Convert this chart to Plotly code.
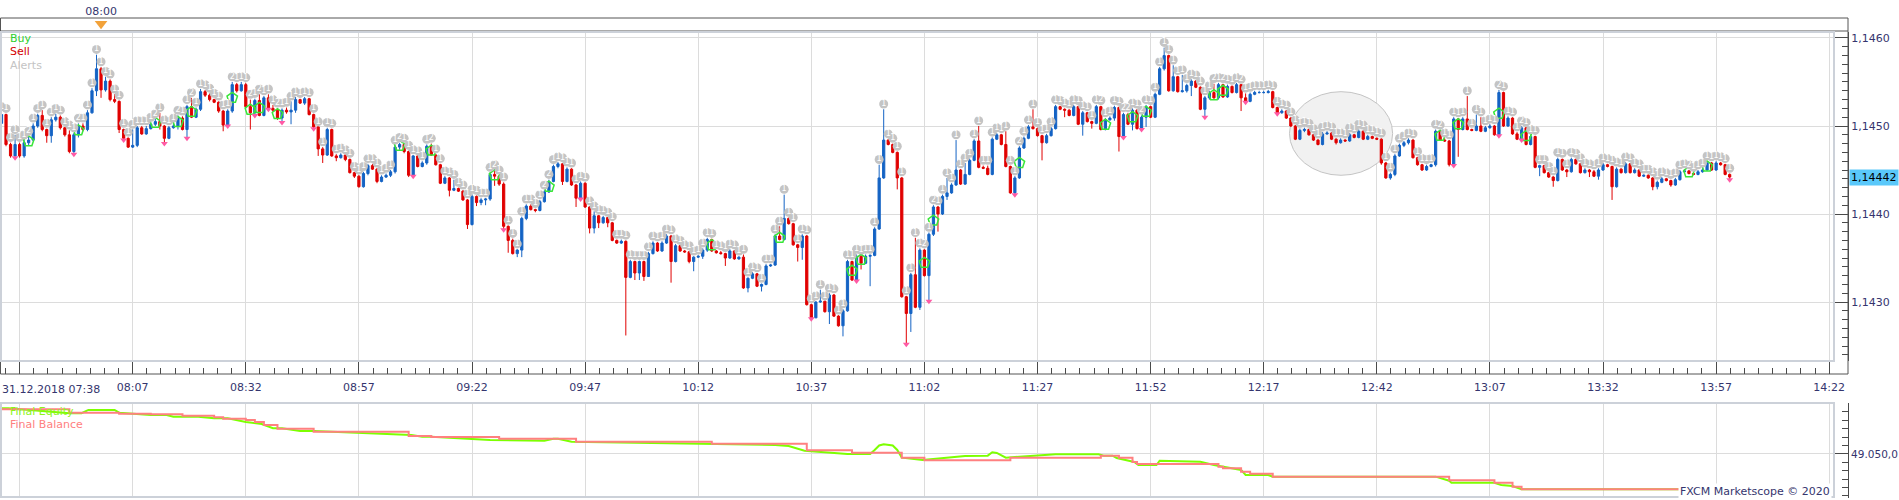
import pandas as pd
import plotly.graph_objects as go

# ---------------- data ----------------
SESSION_START = "2018-12-31 07:38"
first_open = 1.14503

close = [1.14513, 1.14479, 1.14466, 1.14479, 1.14466, 1.14481, 1.14484, 1.14500, 1.14512, 1.14496,
         1.14489, 1.14507, 1.14510, 1.14498, 1.14490, 1.14471, 1.14490, 1.14500, 1.14496, 1.14515,
         1.14540, 1.14565, 1.14541, 1.14551, 1.14530, 1.14528, 1.14496, 1.14486, 1.14476, 1.14478,
         1.14498, 1.14491, 1.14497, 1.14502, 1.14505, 1.14500, 1.14486, 1.14498, 1.14500, 1.14509,
         1.14496, 1.14522, 1.14510, 1.14519, 1.14539, 1.14535, 1.14530, 1.14527, 1.14517, 1.14501,
         1.14517, 1.14547, 1.14540, 1.14547, 1.14522, 1.14515, 1.14529, 1.14512, 1.14532, 1.14520,
         1.14518, 1.14509, 1.14518, 1.14516, 1.14518, 1.14530, 1.14526, 1.14531, 1.14513, 1.14499,
         1.14474, 1.14467, 1.14496, 1.14466, 1.14464, 1.14467, 1.14462, 1.14447, 1.14443, 1.14431,
         1.14446, 1.14455, 1.14451, 1.14437, 1.14442, 1.14444, 1.14448, 1.14476, 1.14479, 1.14471,
         1.14444, 1.14466, 1.14454, 1.14458, 1.14477, 1.14467, 1.14456, 1.14435, 1.14441, 1.14427,
         1.14429, 1.14426, 1.14416, 1.14388, 1.14420, 1.14413, 1.14416, 1.14417, 1.14445, 1.14443,
         1.14434, 1.14386, 1.14370, 1.14355, 1.14359, 1.14395, 1.14409, 1.14405, 1.14404, 1.14414,
         1.14425, 1.14437, 1.14454, 1.14457, 1.14437, 1.14451, 1.14433, 1.14418, 1.14435, 1.14408,
         1.14384, 1.14398, 1.14390, 1.14396, 1.14390, 1.14370, 1.14367, 1.14369, 1.14328, 1.14346,
         1.14333, 1.14346, 1.14329, 1.14355, 1.14367, 1.14358, 1.14367, 1.14375, 1.14346, 1.14364,
         1.14358, 1.14357, 1.14346, 1.14351, 1.14352, 1.14359, 1.14371, 1.14358, 1.14356, 1.14355,
         1.14350, 1.14358, 1.14349, 1.14351, 1.14316, 1.14327, 1.14332, 1.14318, 1.14320, 1.14341,
         1.14342, 1.14375, 1.14371, 1.14395, 1.14389, 1.14365, 1.14362, 1.14375, 1.14297, 1.14282,
         1.14300, 1.14301, 1.14289, 1.14308, 1.14284, 1.14273, 1.14290, 1.14346, 1.14325, 1.14352,
         1.14344, 1.14352, 1.14353, 1.14383, 1.14441, 1.14484, 1.14479, 1.14470, 1.14441, 1.14306,
         1.14287, 1.14331, 1.14294, 1.14359, 1.14330, 1.14377, 1.14408, 1.14400, 1.14420, 1.14424,
         1.14433, 1.14450, 1.14434, 1.14445, 1.14461, 1.14483, 1.14453, 1.14452, 1.14445, 1.14485,
         1.14490, 1.14479, 1.14454, 1.14424, 1.14441, 1.14475, 1.14486, 1.14499, 1.14497, 1.14489,
         1.14481, 1.14489, 1.14497, 1.14522, 1.14519, 1.14518, 1.14512, 1.14522, 1.14502, 1.14515,
         1.14505, 1.14503, 1.14522, 1.14496, 1.14507, 1.14509, 1.14521, 1.14488, 1.14513, 1.14502,
         1.14518, 1.14497, 1.14510, 1.14522, 1.14510, 1.14536, 1.14565, 1.14580, 1.14540, 1.14556,
         1.14539, 1.14540, 1.14546, 1.14551, 1.14544, 1.14519, 1.14532, 1.14538, 1.14532, 1.14547,
         1.14533, 1.14545, 1.14538, 1.14547, 1.14532, 1.14528, 1.14536, 1.14538, 1.14538, 1.14538,
         1.14539, 1.14521, 1.14515, 1.14517, 1.14509, 1.14500, 1.14485, 1.14495, 1.14496, 1.14490,
         1.14484, 1.14479, 1.14491, 1.14492, 1.14485, 1.14481, 1.14484, 1.14483, 1.14490, 1.14487,
         1.14494, 1.14485, 1.14488, 1.14486, 1.14485, 1.14458, 1.14441, 1.14445, 1.14466, 1.14478,
         1.14481, 1.14484, 1.14464, 1.14456, 1.14450, 1.14454, 1.14456, 1.14494, 1.14484, 1.14483,
         1.14456, 1.14508, 1.14496, 1.14508, 1.14496, 1.14495, 1.14500, 1.14494, 1.14498, 1.14500,
         1.14490, 1.14538, 1.14500, 1.14509, 1.14491, 1.14485, 1.14498, 1.14479, 1.14488, 1.14453,
         1.14455, 1.14447, 1.14442, 1.14438, 1.14462, 1.14450, 1.14448, 1.14462, 1.14457, 1.14447,
         1.14450, 1.14448, 1.14443, 1.14450, 1.14456, 1.14454, 1.14431, 1.14451, 1.14447, 1.14457,
         1.14447, 1.14450, 1.14443, 1.14444, 1.14441, 1.14431, 1.14436, 1.14440, 1.14438, 1.14433,
         1.14439, 1.14448, 1.14449, 1.14446, 1.14445, 1.14448, 1.14450, 1.14458, 1.14450, 1.14458,
         1.14456, 1.14445, 1.14442]

high = [1.14516, 1.14514, 1.14481, 1.14490, 1.14481, 1.14484, 1.14488, 1.14503, 1.14514, 1.14518,
        1.14497, 1.14510, 1.14514, 1.14512, 1.14499, 1.14495, 1.14492, 1.14503, 1.14503, 1.14518,
        1.14543, 1.14581, 1.14567, 1.14556, 1.14553, 1.14536, 1.14529, 1.14497, 1.14487, 1.14496,
        1.14500, 1.14500, 1.14500, 1.14504, 1.14508, 1.14515, 1.14501, 1.14500, 1.14503, 1.14512,
        1.14511, 1.14524, 1.14532, 1.14521, 1.14542, 1.14541, 1.14537, 1.14531, 1.14528, 1.14518,
        1.14519, 1.14550, 1.14549, 1.14550, 1.14549, 1.14530, 1.14531, 1.14536, 1.14534, 1.14536,
        1.14524, 1.14520, 1.14520, 1.14521, 1.14528, 1.14533, 1.14531, 1.14533, 1.14532, 1.14514,
        1.14496, 1.14476, 1.14498, 1.14497, 1.14468, 1.14469, 1.14467, 1.14463, 1.14448, 1.14444,
        1.14448, 1.14457, 1.14457, 1.14452, 1.14444, 1.14446, 1.14450, 1.14478, 1.14481, 1.14480,
        1.14472, 1.14467, 1.14466, 1.14460, 1.14479, 1.14480, 1.14468, 1.14457, 1.14443, 1.14442,
        1.14439, 1.14430, 1.14427, 1.14417, 1.14422, 1.14421, 1.14418, 1.14418, 1.14447, 1.14450,
        1.14444, 1.14436, 1.14387, 1.14372, 1.14360, 1.14397, 1.14411, 1.14411, 1.14406, 1.14416,
        1.14427, 1.14439, 1.14456, 1.14459, 1.14458, 1.14453, 1.14452, 1.14434, 1.14437, 1.14436,
        1.14409, 1.14403, 1.14399, 1.14398, 1.14396, 1.14391, 1.14371, 1.14371, 1.14370, 1.14348,
        1.14347, 1.14347, 1.14347, 1.14357, 1.14369, 1.14368, 1.14369, 1.14377, 1.14376, 1.14366,
        1.14364, 1.14359, 1.14358, 1.14352, 1.14353, 1.14361, 1.14373, 1.14372, 1.14359, 1.14358,
        1.14356, 1.14360, 1.14359, 1.14352, 1.14354, 1.14328, 1.14334, 1.14333, 1.14321, 1.14343,
        1.14343, 1.14377, 1.14386, 1.14422, 1.14396, 1.14390, 1.14366, 1.14377, 1.14376, 1.14298,
        1.14301, 1.14314, 1.14301, 1.14310, 1.14309, 1.14285, 1.14292, 1.14348, 1.14347, 1.14354,
        1.14353, 1.14354, 1.14354, 1.14385, 1.14456, 1.14519, 1.14485, 1.14480, 1.14471, 1.14442,
        1.14307, 1.14333, 1.14373, 1.14361, 1.14360, 1.14379, 1.14410, 1.14409, 1.14422, 1.14441,
        1.14435, 1.14484, 1.14451, 1.14458, 1.14463, 1.14485, 1.14500, 1.14455, 1.14455, 1.14487,
        1.14492, 1.14491, 1.14494, 1.14455, 1.14443, 1.14477, 1.14488, 1.14501, 1.14519, 1.14498,
        1.14490, 1.14491, 1.14499, 1.14524, 1.14523, 1.14520, 1.14519, 1.14524, 1.14523, 1.14517,
        1.14516, 1.14506, 1.14524, 1.14523, 1.14509, 1.14511, 1.14523, 1.14522, 1.14515, 1.14515,
        1.14520, 1.14519, 1.14512, 1.14524, 1.14523, 1.14538, 1.14567, 1.14589, 1.14581, 1.14569,
        1.14557, 1.14558, 1.14548, 1.14553, 1.14552, 1.14545, 1.14534, 1.14540, 1.14548, 1.14549,
        1.14548, 1.14547, 1.14546, 1.14549, 1.14547, 1.14537, 1.14538, 1.14540, 1.14540, 1.14540,
        1.14541, 1.14540, 1.14522, 1.14519, 1.14518, 1.14510, 1.14501, 1.14497, 1.14498, 1.14497,
        1.14491, 1.14485, 1.14493, 1.14494, 1.14493, 1.14486, 1.14486, 1.14485, 1.14492, 1.14491,
        1.14496, 1.14495, 1.14490, 1.14489, 1.14487, 1.14486, 1.14459, 1.14447, 1.14468, 1.14480,
        1.14483, 1.14486, 1.14485, 1.14465, 1.14457, 1.14456, 1.14457, 1.14496, 1.14495, 1.14486,
        1.14484, 1.14510, 1.14509, 1.14510, 1.14534, 1.14497, 1.14513, 1.14510, 1.14500, 1.14502,
        1.14501, 1.14541, 1.14539, 1.14511, 1.14510, 1.14493, 1.14500, 1.14497, 1.14490, 1.14489,
        1.14456, 1.14456, 1.14448, 1.14443, 1.14464, 1.14463, 1.14451, 1.14464, 1.14463, 1.14458,
        1.14452, 1.14451, 1.14450, 1.14452, 1.14458, 1.14457, 1.14455, 1.14453, 1.14452, 1.14459,
        1.14458, 1.14452, 1.14451, 1.14445, 1.14445, 1.14442, 1.14438, 1.14442, 1.14441, 1.14439,
        1.14441, 1.14450, 1.14451, 1.14450, 1.14447, 1.14450, 1.14452, 1.14460, 1.14459, 1.14460,
        1.14459, 1.14457, 1.14446]

low = [1.14501, 1.14477, 1.14464, 1.14464, 1.14464, 1.14464, 1.14478, 1.14483, 1.14498, 1.14494,
       1.14481, 1.14481, 1.14505, 1.14496, 1.14488, 1.14469, 1.14468, 1.14487, 1.14494, 1.14494,
       1.14514, 1.14534, 1.14532, 1.14539, 1.14528, 1.14526, 1.14492, 1.14484, 1.14475, 1.14475,
       1.14476, 1.14490, 1.14490, 1.14496, 1.14500, 1.14496, 1.14480, 1.14485, 1.14497, 1.14496,
       1.14495, 1.14486, 1.14509, 1.14509, 1.14517, 1.14533, 1.14528, 1.14526, 1.14515, 1.14494,
       1.14500, 1.14515, 1.14538, 1.14539, 1.14520, 1.14496, 1.14512, 1.14511, 1.14511, 1.14519,
       1.14516, 1.14507, 1.14504, 1.14514, 1.14502, 1.14515, 1.14525, 1.14524, 1.14512, 1.14497,
       1.14466, 1.14458, 1.14466, 1.14465, 1.14460, 1.14463, 1.14460, 1.14446, 1.14441, 1.14430,
       1.14430, 1.14444, 1.14450, 1.14435, 1.14436, 1.14441, 1.14442, 1.14446, 1.14473, 1.14469,
       1.14442, 1.14443, 1.14453, 1.14453, 1.14456, 1.14466, 1.14455, 1.14434, 1.14434, 1.14420,
       1.14426, 1.14425, 1.14415, 1.14383, 1.14387, 1.14409, 1.14410, 1.14410, 1.14415, 1.14432,
       1.14432, 1.14382, 1.14356, 1.14354, 1.14351, 1.14351, 1.14393, 1.14404, 1.14402, 1.14403,
       1.14413, 1.14424, 1.14436, 1.14452, 1.14433, 1.14436, 1.14432, 1.14408, 1.14417, 1.14407,
       1.14378, 1.14378, 1.14384, 1.14389, 1.14385, 1.14369, 1.14366, 1.14366, 1.14262, 1.14327,
       1.14325, 1.14325, 1.14324, 1.14329, 1.14354, 1.14357, 1.14357, 1.14366, 1.14322, 1.14345,
       1.14357, 1.14356, 1.14344, 1.14335, 1.14350, 1.14349, 1.14357, 1.14357, 1.14355, 1.14354,
       1.14341, 1.14349, 1.14348, 1.14348, 1.14315, 1.14311, 1.14326, 1.14317, 1.14312, 1.14319,
       1.14340, 1.14341, 1.14370, 1.14370, 1.14388, 1.14364, 1.14346, 1.14348, 1.14296, 1.14281,
       1.14282, 1.14299, 1.14288, 1.14275, 1.14283, 1.14272, 1.14261, 1.14289, 1.14324, 1.14324,
       1.14337, 1.14343, 1.14318, 1.14352, 1.14382, 1.14440, 1.14478, 1.14469, 1.14428, 1.14305,
       1.14252, 1.14266, 1.14293, 1.14291, 1.14329, 1.14301, 1.14375, 1.14380, 1.14399, 1.14416,
       1.14423, 1.14432, 1.14433, 1.14433, 1.14444, 1.14460, 1.14452, 1.14451, 1.14444, 1.14444,
       1.14484, 1.14478, 1.14453, 1.14423, 1.14422, 1.14440, 1.14474, 1.14485, 1.14496, 1.14488,
       1.14461, 1.14480, 1.14488, 1.14496, 1.14518, 1.14510, 1.14511, 1.14511, 1.14501, 1.14489,
       1.14504, 1.14497, 1.14502, 1.14495, 1.14495, 1.14506, 1.14506, 1.14471, 1.14487, 1.14501,
       1.14495, 1.14496, 1.14496, 1.14499, 1.14509, 1.14509, 1.14535, 1.14563, 1.14539, 1.14539,
       1.14538, 1.14538, 1.14538, 1.14534, 1.14543, 1.14518, 1.14510, 1.14530, 1.14531, 1.14530,
       1.14532, 1.14532, 1.14537, 1.14537, 1.14517, 1.14527, 1.14527, 1.14535, 1.14537, 1.14537,
       1.14537, 1.14520, 1.14514, 1.14514, 1.14508, 1.14499, 1.14484, 1.14484, 1.14493, 1.14489,
       1.14483, 1.14478, 1.14478, 1.14490, 1.14484, 1.14479, 1.14480, 1.14482, 1.14482, 1.14486,
       1.14486, 1.14484, 1.14484, 1.14485, 1.14484, 1.14456, 1.14440, 1.14439, 1.14443, 1.14465,
       1.14476, 1.14479, 1.14463, 1.14455, 1.14449, 1.14449, 1.14453, 1.14454, 1.14483, 1.14482,
       1.14454, 1.14455, 1.14465, 1.14495, 1.14495, 1.14494, 1.14494, 1.14493, 1.14493, 1.14497,
       1.14489, 1.14489, 1.14499, 1.14499, 1.14490, 1.14484, 1.14484, 1.14478, 1.14478, 1.14452,
       1.14443, 1.14446, 1.14441, 1.14431, 1.14437, 1.14449, 1.14442, 1.14447, 1.14456, 1.14446,
       1.14446, 1.14442, 1.14442, 1.14439, 1.14449, 1.14453, 1.14416, 1.14430, 1.14446, 1.14446,
       1.14446, 1.14446, 1.14442, 1.14442, 1.14440, 1.14427, 1.14428, 1.14435, 1.14437, 1.14431,
       1.14432, 1.14438, 1.14447, 1.14445, 1.14444, 1.14444, 1.14447, 1.14449, 1.14449, 1.14449,
       1.14455, 1.14444, 1.14439]

last_price = 1.14442

# alert markers: every bar carries an alert; these bars carry two
alert_double = [6, 17, 34, 39, 42, 51, 55, 57, 61, 88, 95, 109, 120, 121, 204, 206, 225, 243,
                248, 249, 252, 268, 270, 274, 318, 331, 336, 373]
buy_bars = [6, 17, 34, 39, 42, 51, 55, 57, 61, 88, 95, 109, 121, 157, 172, 188, 190, 204, 206,
            225, 244, 250, 253, 268, 270, 318, 322, 331, 337, 373, 377]
sell_bars = [3, 16, 27, 36, 41, 50, 56, 59, 62, 69, 91, 111, 128, 179, 189, 200, 205, 224, 248,
             252, 266, 275, 282, 321, 331, 336, 382]

# equity panel (minutes after session start, account value)
balance_min = [0, 15, 26, 33, 40, 47, 49, 54, 56, 58, 61, 69, 90, 95, 110, 127, 157, 178, 188, 199,
               204, 223, 243, 247, 250, 251, 269, 270, 274, 276, 281, 320, 330, 334, 336, 382]
balance_val = [49103.2, 49099.2, 49098.0, 49097.3, 49095.6, 49093.7, 49092.0, 49090.5, 49088.1, 49084.5,
               49080.1, 49076.5, 49071.4, 49070.2, 49068.2, 49064.6, 49062.3, 49054.4, 49051.5, 49045.6,
               49042.5, 49045.6, 49048.0, 49045.6, 49040.5, 49038.1, 49034.9, 49033.0, 49028.9, 49026.5,
               49023.0, 49018.7, 49015.8, 49011.1, 49008.0, 49008.0]
equity_min = [0, 1.5, 15, 17.7, 19.2, 25, 26, 33, 36.5, 38, 43.5, 47, 50, 54, 57.5, 60, 62, 66, 69, 88,
              90.6, 93, 95, 108, 110.5, 120, 122, 123, 126, 156, 171, 174, 177.5, 187, 192, 193, 194, 195,
              197, 198, 199, 203.6, 205, 213, 218, 219, 220, 222, 225, 233, 242.5, 243.6, 245.6, 246.5,
              250.4, 251.3, 255.3, 256, 265, 268, 274, 275, 280, 281, 317, 318, 320, 320.5, 330, 331.5,
              334, 336, 382]
equity_val = [49104.4, 49104.4, 49098.5, 49098.5, 49102.4, 49102.4, 49099.2, 49096.4, 49096.4, 49094.4,
              49094.4, 49092.5, 49092.5, 49088.1, 49085.7, 49080.6, 49080.6, 49077.4, 49077.4, 49072.6,
              49072.6, 49070.6, 49070.6, 49066.7, 49066.7, 49065.8, 49068.2, 49068.2, 49064.6, 49061.9,
              49060.7, 49059.5, 49053.9, 49050.0, 49050.0, 49054.8, 49060.1, 49061.5, 49060.1, 49054.8,
              49045.6, 49042.9, 49043.7, 49047.6, 49048.0, 49052.0, 49051.2, 49045.6, 49046.8, 49049.6,
              49049.6, 49048.0, 49048.0, 49045.2, 49040.5, 49036.9, 49036.9, 49042.0, 49040.8, 49036.9,
              49031.0, 49025.0, 49025.0, 49023.0, 49023.0, 49021.1, 49018.2, 49015.8, 49015.8, 49013.1,
              49011.9, 49008.0, 49008.0]

# ---------------- derived ----------------
start = pd.Timestamp(SESSION_START)
n = len(close)
times = pd.date_range(start, periods=n, freq="min")
open_ = [first_open] + close[:-1]
high = [max(h, o, c) for h, o, c in zip(high, open_, close)]
low = [min(l, o, c) for l, o, c in zip(low, open_, close)]

# ---------------- styling / layout constants ----------------
W, H = 1899, 500
FONT = "DejaVu Sans"
NAVY = "#35356e"
AX = "#4a4a4a"
GRID = "#dcdcdc"
FRAME = "#ccd1d9"
BLUE = "#1463c4"
RED = "#e00000"
PX_PER_MIN = 4.524
PLOT_R = 1834
AXIS_X = 1848
ALERT_OFFSET = 0.00006


def px(v):
    return v / W


def py(v):
    return 1 - v / H


def ts(t):
    return pd.Timestamp(t).strftime("%Y-%m-%d %H:%M:%S.%f")


x0 = start - pd.Timedelta(seconds=20)
x1 = x0 + pd.Timedelta(minutes=PLOT_R / PX_PER_MIN)
xr = [ts(x0), ts(x1)]
major = pd.date_range("2018-12-31 07:42", "2018-12-31 14:22", freq="25min")
tickvals = [ts(t) for t in major]
ticktext = [""] + [t.strftime("%H:%M") for t in major[1:]]

fig = go.Figure()

# equity panel
fig.add_trace(go.Scatter(x=[start + pd.Timedelta(minutes=m) for m in equity_min], y=equity_val,
                         mode="lines", line=dict(color="#7dff00", width=2),
                         xaxis="x2", yaxis="y2", hoverinfo="skip"))
fig.add_trace(go.Scatter(x=[start + pd.Timedelta(minutes=m) for m in balance_min], y=balance_val,
                         mode="lines", line=dict(color="#ff8080", width=2, shape="hv"),
                         xaxis="x2", yaxis="y2", hoverinfo="skip"))

# candles
fig.add_trace(go.Candlestick(
    x=times, open=open_, high=high, low=low, close=close,
    increasing=dict(line=dict(color=BLUE, width=1), fillcolor=BLUE),
    decreasing=dict(line=dict(color=RED, width=1), fillcolor=RED),
    whiskerwidth=0, xaxis="x", yaxis="y", hoverinfo="skip"))

# buy / sell markers
fig.add_trace(go.Scatter(
    x=[times[i] for i in buy_bars], y=[(open_[i] + close[i]) / 2 for i in buy_bars],
    mode="markers", marker=dict(symbol="pentagon-open", size=11, color="#39e639", line=dict(width=1.5)),
    xaxis="x", yaxis="y", hoverinfo="skip"))
fig.add_trace(go.Scatter(
    x=[times[i] for i in sell_bars], y=[low[i] for i in sell_bars],
    mode="markers", marker=dict(symbol="triangle-down", size=6, color="#ff5aa5"),
    xaxis="x", yaxis="y", hoverinfo="skip"))

# alerts
alert_counts = [2 if i in alert_double else 1 for i in range(n)]
fig.add_trace(go.Scatter(
    x=times, y=[h + ALERT_OFFSET for h in high], mode="markers+text",
    text=[str(c) for c in alert_counts], textposition="middle center",
    textfont=dict(size=8, color="white", family=FONT),
    marker=dict(size=9, color="#c4c4c4"),
    xaxis="x", yaxis="y", hoverinfo="skip"))

# session marker strip
fig.add_trace(go.Scatter(x=["2018-12-31 08:00"], y=[0.55], mode="markers",
                         marker=dict(symbol="triangle-down", size=11, color="#f2a23a"),
                         xaxis="x4", yaxis="y4", hoverinfo="skip"))
# carrier for the time-scale strip
fig.add_trace(go.Scatter(x=[ts(start)], y=[0.5], mode="markers", marker=dict(opacity=0),
                         xaxis="x3", yaxis="y3", hoverinfo="skip"))

common_x = dict(range=xr, type="date", domain=[0, px(PLOT_R)], zeroline=False, fixedrange=True,
                automargin=False)

fig.update_layout(
    width=W, height=H, autosize=False, margin=dict(l=0, r=0, t=0, b=0, pad=0),
    paper_bgcolor="white", plot_bgcolor="white", showlegend=False, separators=",.",
    font=dict(family=FONT, size=11, color=NAVY),
    xaxis=dict(**common_x, anchor="y", showgrid=True, gridcolor=GRID, gridwidth=1,
               tickmode="array", tickvals=tickvals, showticklabels=False, ticks="",
               rangeslider=dict(visible=False)),
    yaxis=dict(domain=[py(361), py(32)], range=[1.14233, 1.146068], anchor="free",
               position=px(AXIS_X), side="right", showgrid=True, gridcolor=GRID,
               tick0=1.143, dtick=0.001, tickformat=".4f", ticks="inside", ticklen=14,
               tickcolor=AX, tickwidth=1, showline=True, linecolor=AX, linewidth=1,
               zeroline=False, fixedrange=True, automargin=False,
               tickfont=dict(color=NAVY, size=11),
               minor=dict(tick0=1.143, dtick=0.0001, ticks="inside", ticklen=6,
                          tickcolor=AX, showgrid=False)),
    xaxis2=dict(**common_x, anchor="y2", showgrid=True, gridcolor=GRID,
                tickmode="array", tickvals=tickvals, showticklabels=False, ticks=""),
    yaxis2=dict(domain=[py(498), py(403)], range=[48997.6, 49110.7], anchor="free",
                position=px(AXIS_X), side="right", showgrid=True, gridcolor=GRID,
                tick0=49050, dtick=100, tickformat=",.1f", ticks="inside", ticklen=14,
                tickcolor=AX, showline=True, linecolor=AX, zeroline=False, fixedrange=True,
                automargin=False, tickfont=dict(color=NAVY, size=10.5),
                minor=dict(tick0=49050, dtick=10, ticks="inside", ticklen=6,
                           tickcolor=AX, showgrid=False)),
    xaxis3=dict(**common_x, anchor="y3", side="bottom", showgrid=False, showline=False,
                tickmode="array", tickvals=tickvals, ticktext=ticktext, ticks="inside",
                ticklen=12, tickcolor=AX, tickfont=dict(color=NAVY, size=11),
                ticklabelstandoff=5,
                minor=dict(tickmode="linear", tick0=tickvals[0], dtick=187500,
                           ticks="inside", ticklen=6, tickcolor=AX, showgrid=False)),
    yaxis3=dict(domain=[py(374), py(362)], range=[0, 1], visible=False, anchor="x3",
                fixedrange=True, automargin=False),
    xaxis4=dict(**common_x, anchor="y4", side="top", showgrid=False, showline=False,
                tickmode="array", tickvals=["2018-12-31 08:00"], ticktext=["08:00"], ticks="",
                tickfont=dict(color=NAVY, size=11)),
    yaxis4=dict(domain=[py(31), py(18)], range=[0, 1], visible=False, anchor="x4",
                fixedrange=True, automargin=False),
)

shapes = [
    dict(type="rect", xref="paper", yref="paper", x0=px(0.5), x1=px(AXIS_X), y0=py(374), y1=py(18),
         line=dict(color="#555555", width=1), layer="above"),
    dict(type="line", xref="paper", yref="paper", x0=px(0), x1=px(AXIS_X), y0=py(31), y1=py(31),
         line=dict(color="#555555", width=1)),
    dict(type="rect", xref="paper", yref="paper", x0=px(1), x1=px(PLOT_R), y0=py(361), y1=py(32),
         line=dict(color=FRAME, width=2), layer="above"),
    dict(type="rect", xref="paper", yref="paper", x0=px(1), x1=px(PLOT_R), y0=py(497), y1=py(403),
         line=dict(color=FRAME, width=2), layer="above"),
    dict(type="circle", xref="x", yref="y",
         x0=ts("2018-12-31 12:22:42"), x1=ts("2018-12-31 12:45:30"), y0=1.14444, y1=1.14539,
         fillcolor="#f1f1f1", line=dict(color="#c4c4c4", width=1), layer="between"),
]
fig.update_layout(shapes=shapes)

ann = [
    dict(text="Buy", x=px(8), y=py(39), color="#2fcf2f"),
    dict(text="Sell", x=px(8), y=py(52), color="#d40000"),
    dict(text="Alerts", x=px(8), y=py(65), color="#c4c4c4"),
    dict(text="Final Equity", x=px(8), y=py(411), color="#8cf51a"),
    dict(text="Final Balance", x=px(8), y=py(424), color="#ff8080"),
    dict(text="31.12.2018 07:38", x=px(0), y=py(389), color=NAVY),
]
annotations = [dict(text=a["text"], x=a["x"], y=a["y"], xref="paper", yref="paper",
                    xanchor="left", yanchor="middle", showarrow=False,
                    font=dict(family=FONT, size=11, color=a["color"])) for a in ann]
annotations.append(dict(text="FXCM Marketscope © 2020", x=px(1832), y=py(491), xref="paper",
                        yref="paper", xanchor="right", yanchor="middle", showarrow=False,
                        bgcolor="white", font=dict(family=FONT, size=11, color=NAVY)))
annotations.append(dict(text=f"{last_price:.5f}".replace(".", ","), x=px(AXIS_X + 1), y=last_price,
                        xref="paper", yref="y", xanchor="left", yanchor="middle", showarrow=False,
                        bgcolor="#5ac8fa", borderpad=1,
                        font=dict(family=FONT, size=11, color="black")))
fig.update_layout(annotations=annotations)

fig.write_html("out.html")
